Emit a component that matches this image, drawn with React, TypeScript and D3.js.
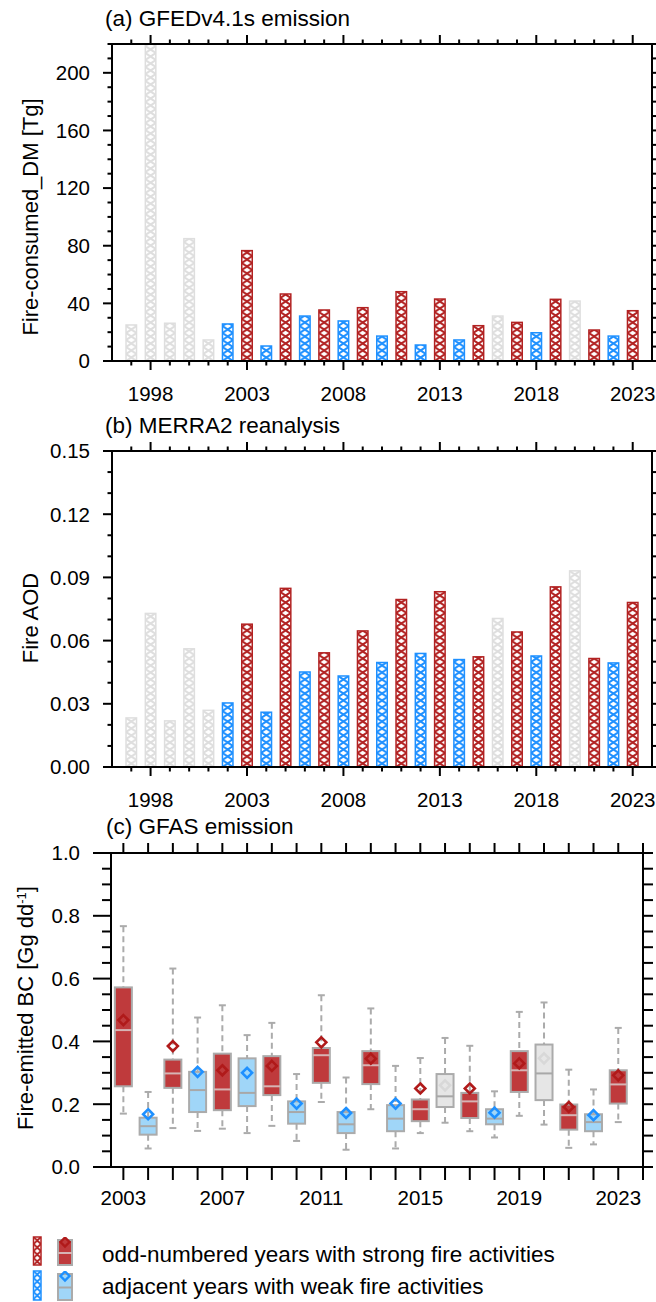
import React from "react";
import * as d3 from "d3";

// ---------- data ----------
const yearsAB = [1997,1998,1999,2000,2001,2002,2003,2004,2005,2006,2007,2008,2009,2010,2011,2012,2013,2014,2015,2016,2017,2018,2019,2020,2021,2022,2023];
const groupAB = ["n","n","n","n","n","w","s","w","s","w","s","w","s","w","s","w","s","w","s","n","s","w","s","n","s","w","s"];
const gfedDM = [25.0,220,26.2,84.9,14.6,25.7,76.6,10.4,46.5,31.2,35.4,27.8,37.0,17.3,48.1,11.1,43.0,14.6,24.5,31.2,26.8,19.6,42.8,41.6,21.5,17.3,34.9];
const merraAOD = [0.0233,0.0729,0.0219,0.0561,0.0269,0.0304,0.0678,0.0260,0.0848,0.0451,0.0542,0.0432,0.0646,0.0496,0.0795,0.0539,0.0832,0.0510,0.0523,0.0705,0.0641,0.0527,0.0855,0.0931,0.0515,0.0494,0.0781];

const yearsC = [2003,2004,2005,2006,2007,2008,2009,2010,2011,2012,2013,2014,2015,2016,2017,2018,2019,2020,2021,2022,2023];
const groupC = ["s","w","s","w","s","w","s","w","s","w","s","w","s","n","s","w","s","n","s","w","s"];
const bcWhiskerLow = [0.170,0.059,0.124,0.115,0.122,0.108,0.131,0.083,0.207,0.055,0.184,0.059,0.108,0.141,0.114,0.094,0.163,0.135,0.061,0.072,0.143];
const bcQ1 = [0.257,0.103,0.252,0.175,0.181,0.194,0.229,0.138,0.268,0.108,0.264,0.114,0.146,0.191,0.156,0.136,0.239,0.213,0.119,0.114,0.202];
const bcMedian = [0.436,0.130,0.298,0.245,0.247,0.236,0.257,0.175,0.356,0.136,0.324,0.154,0.184,0.225,0.209,0.154,0.308,0.298,0.165,0.143,0.263];
const bcQ3 = [0.572,0.157,0.342,0.303,0.361,0.346,0.353,0.209,0.379,0.175,0.369,0.197,0.215,0.296,0.236,0.184,0.369,0.390,0.199,0.168,0.308];
const bcWhiskerHigh = [0.767,0.239,0.632,0.476,0.515,0.420,0.459,0.296,0.547,0.285,0.505,0.322,0.347,0.411,0.386,0.241,0.494,0.524,0.310,0.247,0.443];
const bcMean = [0.468,0.168,0.385,0.303,0.308,0.300,0.322,0.202,0.397,0.172,0.345,0.202,0.250,0.260,0.250,0.173,0.330,0.346,0.191,0.165,0.292];

const ticksA = [0,40,80,120,160,200];
const ticksB = [0,0.03,0.06,0.09,0.12,0.15];
const ticksC = [0,0.2,0.4,0.6,0.8,1.0];
const xLabelsAB = [1998,2003,2008,2013,2018,2023];
const xLabelsC = [2003,2007,2011,2015,2019,2023];
const legendLabels = ["odd-numbered years with strong fire activities","adjacent years with weak fire activities"];

// ---------- styles ----------
const FONT = "'Liberation Sans', Arial, Helvetica, sans-serif";
const TICK_FS = 20.5;
const TITLE_FS = 22.5;
const hatchColor: Record<string,string> = { s: "#b22222", w: "#1e90ff", n: "#dedede" };
const boxFill: Record<string,string> = { s: "#bf3a3c", w: "#a0d6f8", n: "#e6e6e6" };
const medianColor: Record<string,string> = { s: "#d6b4b4", w: "#a8a8a8", n: "#a8a8a8" };
const meanColor: Record<string,string> = { s: "#b01a1a", w: "#1e90ff", n: "#d8d8d8" };
const GRAYLINE = "#ababab";

const range = (a: number, b: number, s: number) => d3.range(a, b + s / 2, s).map(v => +v.toFixed(6));

function Frame({ x0, x1, y0, y1 }: any) {
  return <rect x={x0} y={y0} width={x1 - x0} height={y1 - y0} fill="none" stroke="#000" strokeWidth={2} />;
}

function BarPanel({ id, values, yMax, top, bottom, yTicks, yMinor, yRight, fmt, title, ylabel, ylabelY }: any) {
  const left = 112, right = 652;
  const x = d3.scaleLinear().domain([1996, 2024]).range([left, right]);
  const y = d3.scaleLinear().domain([0, yMax]).range([bottom, top]);
  const bw = 10.5, ph = 7;
  return (
    <g>
      <defs>
        <clipPath id={`clip-${id}`}><rect x={left} y={top} width={right - left} height={bottom - top} /></clipPath>
        {yearsAB.map((yr, i) => {
          const bx = x(yr) - bw / 2;
          const c = hatchColor[groupAB[i]];
          return (
            <pattern key={i} id={`hp-${id}-${i}`} patternUnits="userSpaceOnUse" x={bx} y={bottom} width={bw} height={ph}>
              <rect width={bw} height={ph} fill="#fff" />
              <path d={`M0,0L${bw},${ph}M${bw},0L0,${ph}`} stroke={c} strokeWidth={2} />
            </pattern>
          );
        })}
      </defs>
      <g clipPath={`url(#clip-${id})`}>
        {yearsAB.map((yr, i) => {
          const c = hatchColor[groupAB[i]];
          const yt = Math.max(y(values[i]), top - 2);
          return <rect key={i} x={x(yr) - bw / 2} y={yt} width={bw} height={bottom - yt} fill={`url(#hp-${id}-${i})`} stroke={c} strokeWidth={1.5} />;
        })}
      </g>
      {d3.range(1997, 2024).map(yr => {
        const major = xLabelsAB.includes(yr);
        const L = major ? 9 : 4.5;
        return (
          <g key={yr}>
            <line x1={x(yr)} x2={x(yr)} y1={bottom} y2={bottom + L} stroke="#000" strokeWidth={2} />
            <line x1={x(yr)} x2={x(yr)} y1={top} y2={top - L} stroke="#000" strokeWidth={2} />
          </g>
        );
      })}
      {xLabelsAB.map(yr => (
        <text key={yr} x={x(yr)} y={bottom + 40} textAnchor="middle" fontSize={TICK_FS} fontFamily={FONT}>{yr}</text>
      ))}
      {yMinor.map((v: number) => {
        const major = yTicks.some((t: number) => Math.abs(t - v) < 1e-9);
        return <line key={v} x1={left} x2={left - (major ? 9 : 4.5)} y1={y(v)} y2={y(v)} stroke="#000" strokeWidth={2} />;
      })}
      {yRight.map((v: number) => (
        <line key={"r" + v} x1={right} x2={right + 5} y1={y(v)} y2={y(v)} stroke="#000" strokeWidth={2} />
      ))}
      {yTicks.map((v: number) => (
        <text key={v} x={left - 22} y={y(v)} dy="0.36em" textAnchor="end" fontSize={TICK_FS} fontFamily={FONT}>{fmt(v)}</text>
      ))}
      <Frame x0={left} x1={right} y0={top} y1={bottom} />
      <text x={105} y={top - 18} fontSize={TITLE_FS} fontFamily={FONT}>{title}</text>
      <text transform={`translate(38,${ylabelY}) rotate(-90)`} textAnchor="middle" fontSize={22} fontFamily={FONT}>{ylabel}</text>
    </g>
  );
}

function BoxPanel() {
  const left = 111, right = 643, top = 853, bottom = 1167;
  const x = d3.scaleLinear().domain([2002.5, 2024]).range([left, right]);
  const y = d3.scaleLinear().domain([0, 1]).range([bottom, top]);
  const bw = 17, cap = 3.5, dm = 5;
  return (
    <g>
      {yearsC.map((yr, i) => {
        const g = groupC[i];
        const cx = x(yr);
        const my = y(bcMean[i]);
        return (
          <g key={yr}>
            <line x1={cx} x2={cx} y1={y(bcWhiskerHigh[i])} y2={y(bcQ3[i])} stroke={GRAYLINE} strokeWidth={2} strokeDasharray="6,4" />
            <line x1={cx} x2={cx} y1={y(bcQ1[i])} y2={y(bcWhiskerLow[i])} stroke={GRAYLINE} strokeWidth={2} strokeDasharray="6,4" />
            <line x1={cx - cap} x2={cx + cap} y1={y(bcWhiskerHigh[i])} y2={y(bcWhiskerHigh[i])} stroke={GRAYLINE} strokeWidth={2} />
            <line x1={cx - cap} x2={cx + cap} y1={y(bcWhiskerLow[i])} y2={y(bcWhiskerLow[i])} stroke={GRAYLINE} strokeWidth={2} />
            <rect x={cx - bw / 2} y={y(bcQ3[i])} width={bw} height={y(bcQ1[i]) - y(bcQ3[i])} fill={boxFill[g]} stroke={GRAYLINE} strokeWidth={2} />
            <line x1={cx - bw / 2} x2={cx + bw / 2} y1={y(bcMedian[i])} y2={y(bcMedian[i])} stroke={medianColor[g]} strokeWidth={2} />
            <path d={`M${cx},${my - dm}L${cx + dm},${my}L${cx},${my + dm}L${cx - dm},${my}Z`} fill="none" stroke={meanColor[g]} strokeWidth={2.6} />
          </g>
        );
      })}
      {d3.range(2003, 2025).map(yr => (
        <g key={yr}>
          <line x1={x(yr)} x2={x(yr)} y1={bottom} y2={bottom + 13} stroke="#000" strokeWidth={2} />
          <line x1={x(yr)} x2={x(yr)} y1={top} y2={top - 10} stroke="#000" strokeWidth={2} />
        </g>
      ))}
      {xLabelsC.map(yr => (
        <text key={yr} x={x(yr)} y={bottom + 38} textAnchor="middle" fontSize={TICK_FS} fontFamily={FONT}>{yr}</text>
      ))}
      {range(0, 1, 0.05).map(v => {
        const major = ticksC.some(t => Math.abs(t - v) < 1e-9);
        return (
          <g key={v}>
            <line x1={left} x2={left - (major ? 18 : 9)} y1={y(v)} y2={y(v)} stroke="#000" strokeWidth={2} />
            <line x1={right} x2={right + 10} y1={y(v)} y2={y(v)} stroke="#000" strokeWidth={2} />
          </g>
        );
      })}
      {ticksC.map(v => (
        <text key={v} x={left - 31} y={y(v)} dy="0.36em" textAnchor="end" fontSize={TICK_FS} fontFamily={FONT}>{v.toFixed(1)}</text>
      ))}
      <Frame x0={left} x1={right} y0={top} y1={bottom} />
      <text x={106} y={top - 19} fontSize={TITLE_FS} fontFamily={FONT}>(c) GFAS emission</text>
      <text transform={`translate(33,1008) rotate(-90)`} textAnchor="middle" fontSize={22} fontFamily={FONT}>
        Fire-emitted BC [Gg dd<tspan dy="-7" fontSize={13}>-1</tspan><tspan dy="7">]</tspan>
      </text>
    </g>
  );
}

function Legend() {
  const rows = [
    { g: "s", y0: 1237, y1: 1265, base: 1262 },
    { g: "w", y0: 1271, y1: 1300, base: 1294 },
  ];
  const bw = 7.5, ph = 7;
  return (
    <g>
      <defs>
        {rows.map((r, i) => (
          <pattern key={i} id={`lg-${i}`} patternUnits="userSpaceOnUse" x={33.5} y={r.y0} width={bw} height={ph}>
            <rect width={bw} height={ph} fill="#fff" />
            <path d={`M0,0L${bw},${ph}M${bw},0L0,${ph}`} stroke={hatchColor[r.g]} strokeWidth={2} />
          </pattern>
        ))}
        {rows.map((r, i) => (
          <clipPath key={"c" + i} id={`lgc-${i}`}><rect x={56} y={r.y0} width={18} height={r.y1 - r.y0 + 1} /></clipPath>
        ))}
      </defs>
      {rows.map((r, i) => {
        const cx = 65, dm = 4.5, bt = r.y0 + 3;
        return (
          <g key={i}>
            <rect x={33.5} y={r.y0} width={bw} height={r.y1 - r.y0} fill={`url(#lg-${i})`} stroke={hatchColor[r.g]} strokeWidth={1.5} />
            <g clipPath={`url(#lgc-${i})`}>
              <rect x={58} y={bt} width={14} height={r.y1 - bt} fill={boxFill[r.g]} stroke={GRAYLINE} strokeWidth={2} />
              <line x1={58} x2={72} y1={(r.y0 + r.y1) / 2 + 2} y2={(r.y0 + r.y1) / 2 + 2} stroke={medianColor[r.g]} strokeWidth={2} />
              <path d={`M${cx},${bt - dm + 2}L${cx + dm},${bt + 2}L${cx},${bt + dm + 2}L${cx - dm},${bt + 2}Z`} fill={r.g === "s" ? boxFill.s : "none"} stroke={meanColor[r.g]} strokeWidth={2.4} />
            </g>
            <text x={102} y={r.base} fontSize={TITLE_FS} fontFamily={FONT}>{legendLabels[i]}</text>
          </g>
        );
      })}
    </g>
  );
}

export default function App() {
  return (
    <svg width={656} height={1302} style={{ position: "absolute", left: 0, top: 0, background: "#fff" }} xmlns="http://www.w3.org/2000/svg">
      <rect width={656} height={1302} fill="#fff" />
      <BarPanel id="a" values={gfedDM} yMax={220} top={44} bottom={361} yTicks={ticksA} yMinor={range(0, 220, 10)} yRight={range(0, 220, 10)}
        fmt={(v: number) => String(v)} title="(a) GFEDv4.1s emission" ylabel="Fire-consumed_DM [Tg]" ylabelY={217} />
      <BarPanel id="b" values={merraAOD} yMax={0.15} top={451} bottom={767} yTicks={ticksB} yMinor={range(0, 0.15, 0.01)} yRight={range(0, 0.15, 0.01)}
        fmt={(v: number) => v.toFixed(2)} title="(b) MERRA2 reanalysis" ylabel="Fire AOD" ylabelY={618} />
      <BoxPanel />
      <Legend />
    </svg>
  );
}
